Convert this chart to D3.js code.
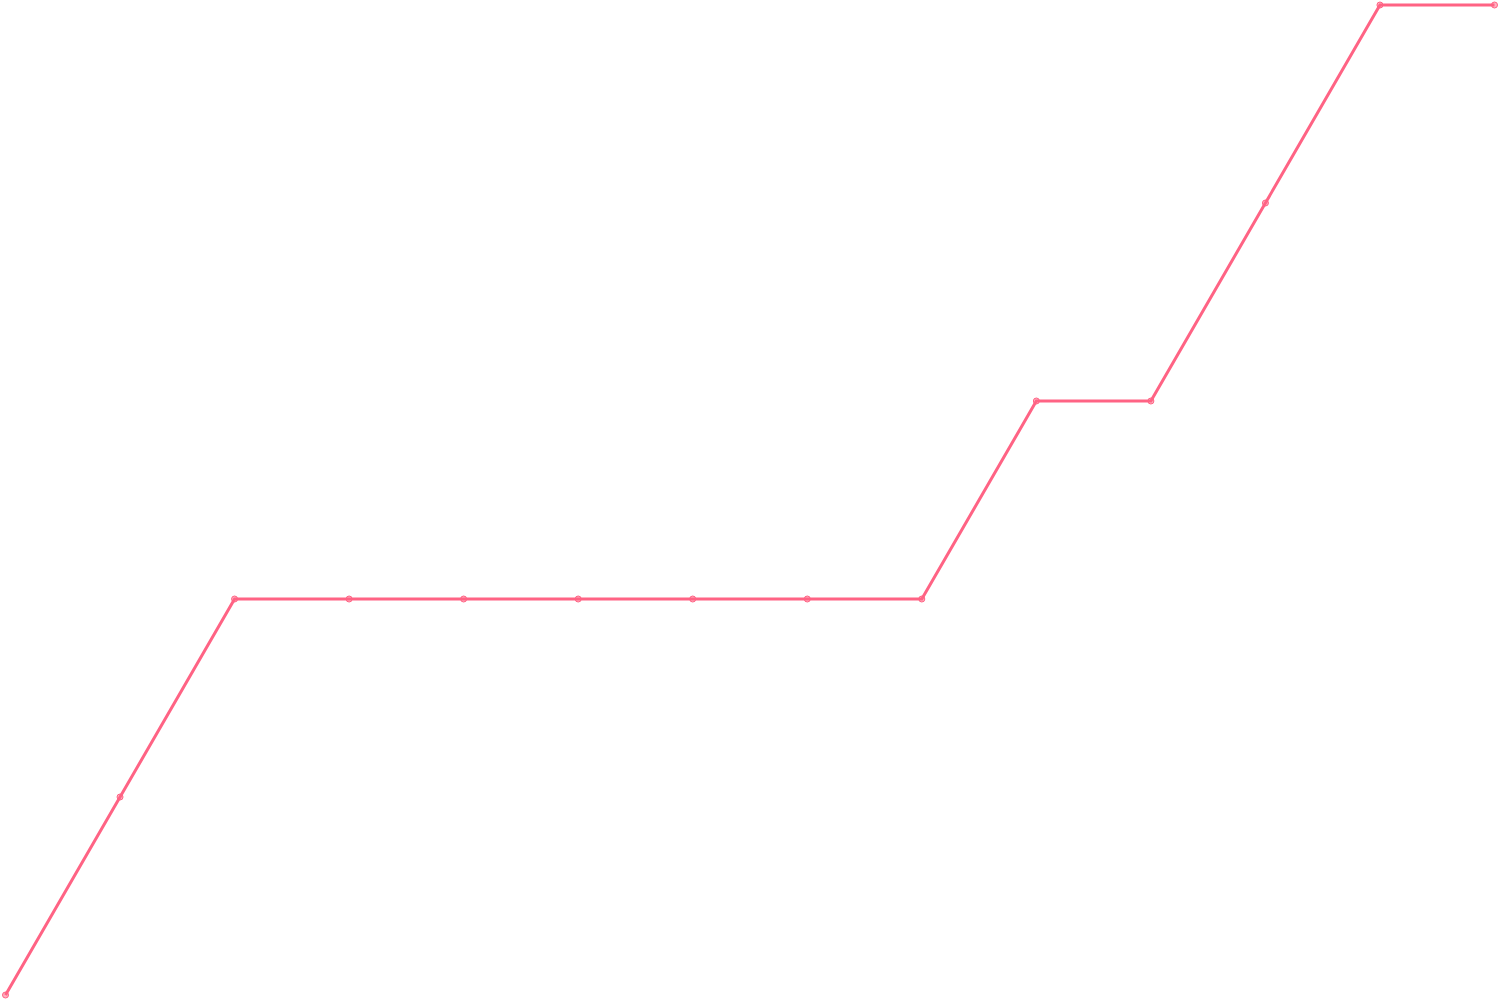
<!DOCTYPE html>
<html>
<head>
<meta charset="utf-8">
<script src="https://cdn.jsdelivr.net/npm/d3@7"></script>
<style>
  html, body { margin: 0; padding: 0; background: #fff; }
  svg { display: block; }
</style>
</head>
<body>
<div id="chart"></div>
<script>
const labels = d3.range(0, 14);
const values = [0, 1, 2, 2, 2, 2, 2, 2, 2, 3, 3, 4, 5, 5];

const width = 1500;
const height = 1000;

const svg = d3.select('#chart')
  .append('svg')
  .attr('width', width)
  .attr('height', height);

const x = d3.scalePoint().domain(labels).range([5.5, 1494.5]);
const y = d3.scaleLinear().domain([0, 5]).range([995, 5]);

const line = d3.line()
  .x((d, i) => x(labels[i]))
  .y((d) => y(d));

svg.append('path')
  .datum(values)
  .attr('fill', 'none')
  .attr('stroke', '#ff6384')
  .attr('stroke-width', 3)
  .attr('stroke-linejoin', 'miter')
  .attr('d', line);

svg.selectAll('circle')
  .data(values)
  .join('circle')
  .attr('cx', (d, i) => x(labels[i]))
  .attr('cy', (d) => y(d))
  .attr('r', 3)
  .attr('fill', 'rgba(255, 99, 132, 0.5)')
  .attr('stroke', '#ff6384')
  .attr('stroke-width', 1);
</script>
</body>
</html>
